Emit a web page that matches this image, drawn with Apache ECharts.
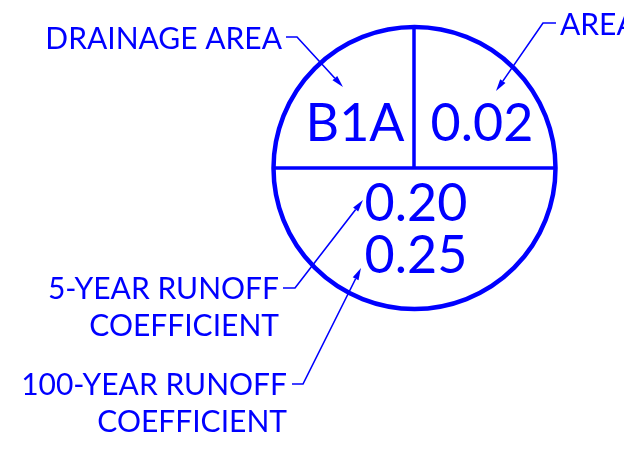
<!DOCTYPE html>
<html>
<head>
<meta charset="utf-8">
<style>html,body{margin:0;padding:0;background:#fff}#c{width:624px;height:463px}</style>
<script src="https://cdn.jsdelivr.net/npm/echarts@6/dist/echarts.min.js"></script>
</head>
<body>
<div id="c"></div>
<script>
// Data
var drainageId = 'B1A';
var areaValue = '0.02';
var runoff5 = '0.20';
var runoff100 = '0.25';
var calloutLabels = ['DRAINAGE AREA', 'AREA', '5-YEAR RUNOFF\nCOEFFICIENT', '100-YEAR RUNOFF\nCOEFFICIENT'];

var BLUE = '#0000FF';
var FONT = 'Lato';
var chart = echarts.init(document.getElementById('c'), null, {renderer: 'canvas'});

var cx = 414.5, cy = 168, R = 141;

function leader(pts, tip) {
  var els = [];
  var prev = pts[pts.length - 1];
  var dx = tip[0] - prev[0], dy = tip[1] - prev[1];
  var L = Math.sqrt(dx * dx + dy * dy);
  var ux = dx / L, uy = dy / L;
  var al = 12, aw = 3.2;
  var bx = tip[0] - ux * al, by = tip[1] - uy * al;
  var linePts = pts.concat([[bx, by]]);
  els.push({type: 'polyline', shape: {points: linePts}, style: {stroke: BLUE, lineWidth: 1.6, fill: null}});
  els.push({type: 'polygon', shape: {points: [tip, [bx - uy * aw, by + ux * aw], [bx + uy * aw, by - ux * aw]]}, style: {fill: BLUE}});
  return els;
}

function txt(t, x, y, size, align) {
  return {type: 'text', x: x, y: y, style: {text: t, fill: BLUE, font: 'normal ' + size + 'px ' + FONT, align: align, verticalAlign: 'middle', lineHeight: 37}};
}

var g = [];
g.push({type: 'circle', shape: {cx: cx, cy: cy, r: R}, style: {stroke: BLUE, lineWidth: 4.5, fill: null}});
g.push({type: 'line', shape: {x1: cx - R, y1: cy, x2: cx + R, y2: cy}, style: {stroke: BLUE, lineWidth: 3.5}});
g.push({type: 'line', shape: {x1: 414, y1: cy - R, x2: 414, y2: cy}, style: {stroke: BLUE, lineWidth: 3.5}});

g.push(txt(drainageId, 355, 124, 52, 'center'));
g.push(txt(areaValue, 482, 124, 52, 'center'));
g.push(txt(runoff5, 416, 204, 52, 'center'));
g.push(txt(runoff100, 416, 256, 52, 'center'));

g.push(txt(calloutLabels[0], 282, 39, 30, 'right'));
g.push(txt(calloutLabels[1], 560, 25, 30, 'left'));
g.push(txt(calloutLabels[2], 279, 308, 30, 'right'));
g.push(txt(calloutLabels[3], 287, 404, 30, 'right'));

g = g.concat(leader([[286, 37], [297, 37]], [343, 87]));
g = g.concat(leader([[556, 23], [543, 23]], [496, 91]));
g = g.concat(leader([[283, 288], [295, 288]], [363, 200]));
g = g.concat(leader([[292, 384], [303, 384]], [361, 268]));

chart.setOption({backgroundColor: '#fff', animation: false, graphic: {elements: g}});
</script>
</body>
</html>
